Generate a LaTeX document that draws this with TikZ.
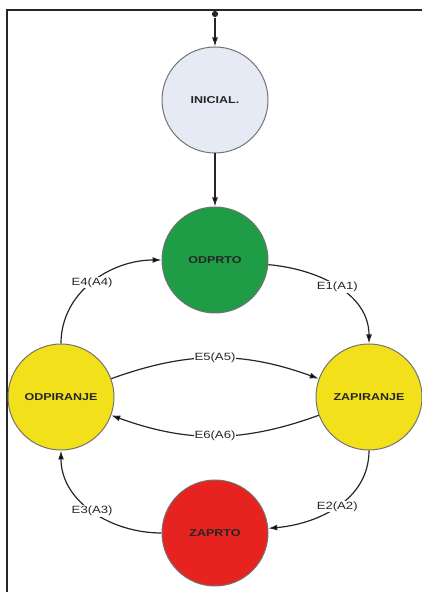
\documentclass[tikz,border=0pt]{standalone}
\usepackage{fontspec}
\newfontfamily\stfont[FakeStretch=1.25]{Liberation Sans}
\usetikzlibrary{positioning,arrows.meta}
\definecolor{inicial}{HTML}{E6EAF4}
\definecolor{odprto}{HTML}{1E9C46}
\definecolor{rumena}{HTML}{F2E01A}
\definecolor{rdeca}{HTML}{E6231F}
\tikzstyle{state}=[draw=black!55,circle,line width=1pt,minimum size=106pt,inner sep=0pt,
  text=black!85,font=\stfont\bfseries\fontsize{10}{12}\selectfont]
\tikzstyle{lbl}=[fill=white,inner sep=1pt,text=black!85,font=\stfont\fontsize{10.5}{12}\selectfont]

\begin{document}
\begin{tikzpicture}[x=1pt,y=1pt,node distance=160pt,on grid,line width=1.2pt,
    >={Latex[length=9pt,width=6pt]}]
	\useasboundingbox (0,0) rectangle (422,592);
	\draw[line width=2pt,black!85] (7,0) -- (7,582) -- (422,582);
	\node(q0)[state,fill=inicial] at (215,492) {INICIAL.};
	\node(s)[circle,fill=black!85,inner sep=2.2pt,above=86pt of q0]{};
	\node(q1)[state,fill=odprto,below=of q0]{ODPRTO};
	\node(q2)[state,fill=rumena,below left=137pt and 154pt of q1]{ODPIRANJE};
	\node(q3)[state,fill=rumena,below right=137pt and 154pt of q1]{ZAPIRANJE};
	\node(q4)[state,fill=rdeca,below=273pt of q1]{ZAPRTO};

	\path[->,draw=black!85]       (s) edge (q0)
	                (q0) edge (q1)
	                (q1) edge[out=-5,in=90] node[lbl]{E1(A1)} (q3)
	                (q3) edge[out=-90,in=5] node[lbl]{E2(A2)} (q4)
	                (q4) edge[out=180,in=-90] node[lbl]{E3(A3)} (q2)
	                (q2) edge[out=90,in=180] node[lbl]{E4(A4)} (q1)
	                (q2) edge[bend left=20] node[lbl]{E5(A5)} (q3)
	                (q3) edge[bend left=20] node[lbl]{E6(A6)} (q2);
\end{tikzpicture}
\end{document}
